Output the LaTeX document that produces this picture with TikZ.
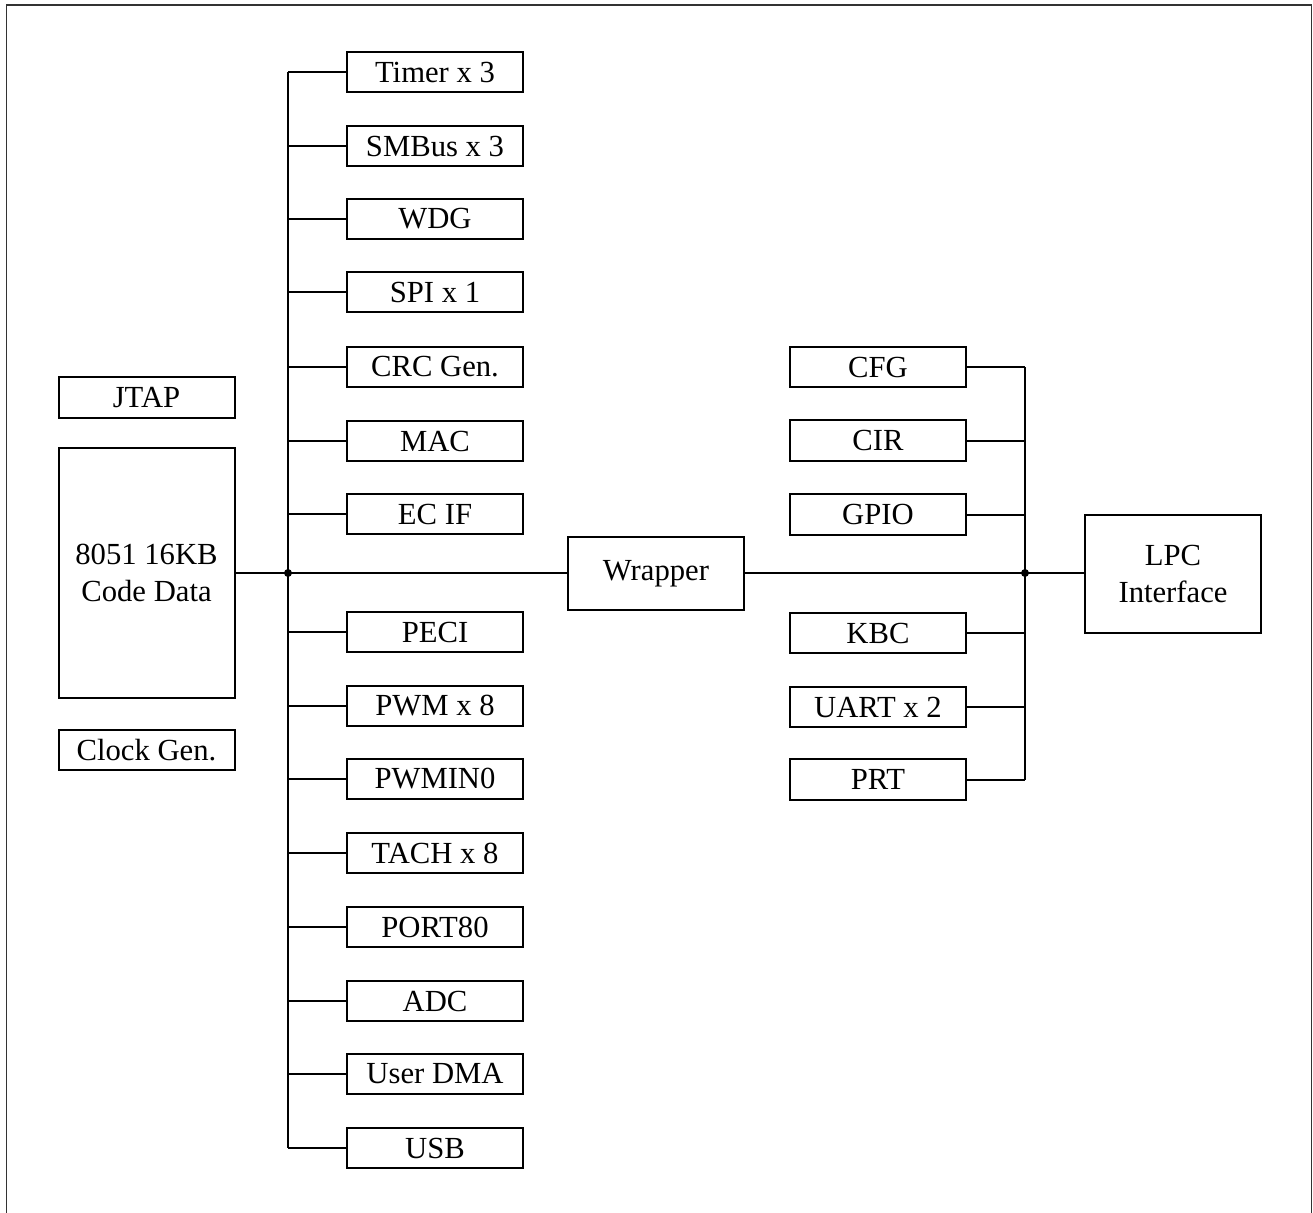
\documentclass[tikz,border=0pt]{standalone}
\usepackage{fontspec}
\setmainfont{Liberation Serif}
\usetikzlibrary{calc}
\tikzset{blk/.style={draw,line width=1.5pt,minimum width=132pt,minimum height=30.5pt,inner sep=0pt,align=center},
 wire/.style={line width=1.5pt},
 jdot/.style={circle,fill,inner sep=0pt,minimum size=6pt},
 every node/.style={font=\fontsize{23}{27.5}\selectfont}}
\begin{document}
\begin{tikzpicture}[x=0.75pt,y=-0.75pt]
\useasboundingbox (0,0) rectangle (1313,1213);
\draw[line width=1.1pt,draw=black!80] (6.5,5) rectangle (1311.5,1240);
% core side
\node[blk] (jtap) at (146.5,397.5) {JTAP};
\node[blk,minimum height=187.5pt] (cpu) at (146.5,573) {8051 16KB\\Code Data};
\node[blk] (clk) at (146.5,750) {Clock Gen.};
\coordinate (lb) at (288,573);
\foreach \nm/\yy/\tx in {tmr/72/Timer x 3,smb/146/SMBus x 3,wdg/219/WDG,spi/292/SPI x 1,
  crc/367/CRC Gen.,mac/441/MAC,ecif/514/EC IF,peci/632/PECI,pwm/706/PWM x 8,
  pwmin/779/PWMIN0,tach/853/TACH x 8,port/927/PORT80,adc/1001/ADC,dma/1074/User DMA,usb/1148/USB}
  {\node[blk] (\nm) at (435,\yy) {\tx};
   \draw[wire] (\nm.west) -- (\nm.west -| lb);}
\draw[wire] (tmr.west -| lb) -- (usb.west -| lb);
% host side
\node[blk,minimum height=55pt] (wrap) at (656,573.5) {Wrapper};
\node[blk,minimum height=88.5pt] (lpc) at (1173,574) {LPC\\Interface};
\coordinate (rb) at (1025,573);
\foreach \nm/\yy/\tx in {cfg/367/CFG,cir/440.5/CIR,gpio/514.5/GPIO,kbc/633/KBC,uart/707/UART x 2,prt/779.5/PRT}
  {\node[blk] (\nm) at (878,\yy) {\tx};
   \draw[wire] (\nm.east) -- (\nm.east -| rb);}
\draw[wire] (cfg.east -| rb) -- (prt.east -| rb);
% main path
\draw[wire] (cpu.east |- lb) -- (wrap.west |- lb);
\draw[wire] (wrap.east |- rb) -- (lpc.west |- rb);
\node[jdot] at (lb) {};
\node[jdot] at (rb) {};
\end{tikzpicture}
\end{document}
